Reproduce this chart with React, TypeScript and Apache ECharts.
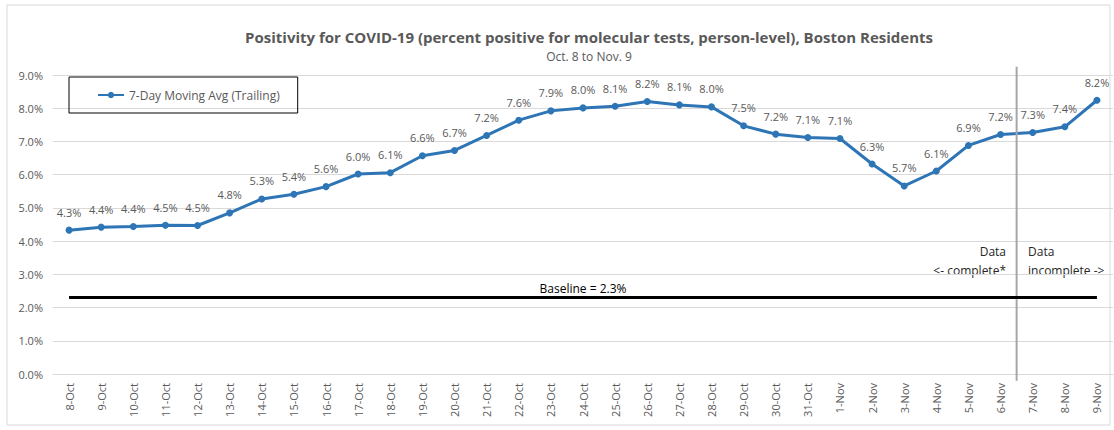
import React, { useEffect, useRef } from "react";
import * as echarts from "echarts";

const categories = [
  "8-Oct", "9-Oct", "10-Oct", "11-Oct", "12-Oct", "13-Oct", "14-Oct", "15-Oct", "16-Oct", "17-Oct",
  "18-Oct", "19-Oct", "20-Oct", "21-Oct", "22-Oct", "23-Oct", "24-Oct", "25-Oct", "26-Oct", "27-Oct",
  "28-Oct", "29-Oct", "30-Oct", "31-Oct", "1-Nov", "2-Nov", "3-Nov", "4-Nov", "5-Nov", "6-Nov",
  "7-Nov", "8-Nov", "9-Nov",
];
const movingAvg = [
  4.33, 4.42, 4.44, 4.48, 4.47, 4.85, 5.27, 5.41, 5.64, 6.02,
  6.06, 6.57, 6.73, 7.18, 7.64, 7.92, 8.01, 8.06, 8.2, 8.1,
  8.04, 7.47, 7.22, 7.12, 7.09, 6.32, 5.66, 6.11, 6.88, 7.21,
  7.27, 7.44, 8.24,
];
const baseline = 2.3;
const splitPosition = 29.5; // between 6-Nov and 7-Nov
const yTicks = { min: 0, max: 9, interval: 1 };

const FONT = "'Open Sans', 'Noto Sans', sans-serif";
const GRAY = "#595959";

export default function App() {
  const ref = useRef<HTMLDivElement>(null);
  useEffect(() => {
    document.body.style.margin = "0";
    const chart = echarts.init(ref.current!, null, { renderer: "svg" });
    chart.setOption({
      animation: false,
      textStyle: { fontFamily: FONT },
      title: {
        text: "Positivity for COVID-19 (percent positive for molecular tests, person-level), Boston Residents",
        subtext: "Oct. 8 to Nov. 9",
        left: 584,
        textAlign: "center",
        top: 24,
        itemGap: 6,
        textStyle: { fontSize: 15, fontWeight: "bold", color: GRAY, fontFamily: FONT },
        subtextStyle: { fontSize: 12, color: GRAY, fontFamily: FONT },
      },
      legend: {
        data: ["7-Day Moving Avg (Trailing)"],
        left: 69,
        top: 77,
        orient: "horizontal",
        borderColor: "#000",
        borderWidth: 1,
        padding: [12, 18, 12, 28],
        itemWidth: 26,
        itemHeight: 8,
        itemGap: 2,
        textStyle: { fontSize: 12, color: GRAY, fontFamily: FONT },
      },
      grid: { left: 53, right: 1, top: 75, bottom: 56, containLabel: false },
      xAxis: [
        {
          type: "category",
          data: categories,
          boundaryGap: true,
          axisLine: { lineStyle: { color: "#d9d9d9" } },
          axisTick: { show: false },
          axisLabel: { rotate: 90, fontSize: 11, color: GRAY, margin: 9, interval: 0, fontFamily: FONT },
        },
        {
          type: "value",
          min: -0.5,
          max: 32.5,
          show: false,
        },
      ],
      yAxis: {
        type: "value",
        min: yTicks.min,
        max: yTicks.max,
        interval: yTicks.interval,
        axisLine: { show: false },
        axisTick: { show: false },
        splitLine: { lineStyle: { color: "#d9d9d9" } },
        axisLabel: {
          fontSize: 11,
          color: GRAY,
          margin: 10,
          fontFamily: FONT,
          formatter: (v: number) => v.toFixed(1) + "%",
        },
      },
      series: [
        {
          name: "7-Day Moving Avg (Trailing)",
          type: "line",
          data: movingAvg,
          symbol: "circle",
          symbolSize: 7,
          lineStyle: { color: "#2e75b6", width: 3 },
          itemStyle: { color: "#2e75b6" },
          label: {
            show: true,
            position: "top",
            distance: 9,
            fontSize: 11,
            color: GRAY,
            fontFamily: FONT,
            formatter: (p: any) => p.value.toFixed(1) + "%",
          },
          markLine: {
            silent: true,
            symbol: "none",
            lineStyle: { color: "#000", width: 3, type: "solid" },
            label: {
              show: true,
              position: "middle",
              formatter: "Baseline = " + baseline.toFixed(1) + "%",
              color: "#000",
              fontSize: 12,
              fontFamily: FONT,
              distance: 3,
            },
            data: [[{ coord: [0, baseline] }, { coord: [categories.length - 1, baseline] }]],
          },
          z: 3,
        },
        {
          name: "split",
          type: "line",
          xAxisIndex: 1,
          data: [[splitPosition, 9.25], [splitPosition, -0.2]],
          symbol: "none",
          clip: false,
          lineStyle: { color: "#a6a6a6", width: 2 },
          silent: true,
          z: 4,
        },
      ],
      graphic: [
        {
          type: "rect",
          shape: { x: 7, y: 5, width: 1103, height: 420 },
          style: { fill: "none", stroke: "#d9d9d9", lineWidth: 1 },
          silent: true,
        },
        {
          type: "text",
          x: 1006,
          y: 242,
          style: {
            text: "Data\n<- complete*",
            align: "right",
            fill: "#262626",
            font: "12px " + FONT,
            lineHeight: 19,
          },
        },
        {
          type: "text",
          x: 1028,
          y: 242,
          style: {
            text: "Data\nincomplete ->",
            align: "left",
            fill: "#262626",
            font: "12px " + FONT,
            lineHeight: 19,
          },
        },
      ],
    });
    return () => chart.dispose();
  }, []);
  return <div ref={ref} style={{ width: 1114, height: 430 }} />;
}
